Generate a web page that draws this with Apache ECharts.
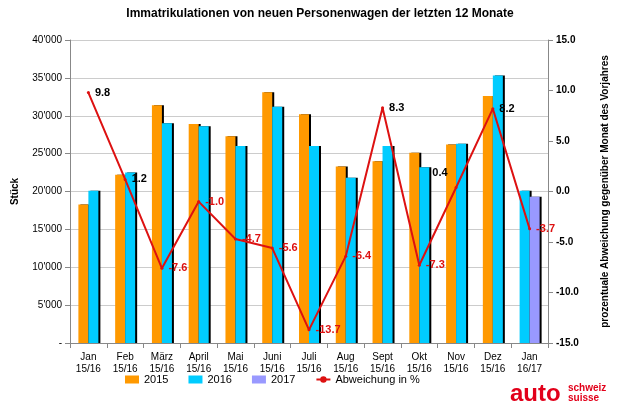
<!DOCTYPE html>
<html><head><meta charset="utf-8">
<script src="https://cdn.jsdelivr.net/npm/echarts@6/dist/echarts.min.js"></script>
<style>html,body{margin:0;padding:0;background:#fff}#c{width:630px;height:412px}</style>
</head><body><div id="c"></div>
<script>
const categories = ['Jan\n15/16','Feb\n15/16','März\n15/16','April\n15/16','Mai\n15/16','Juni\n15/16','Juli\n15/16','Aug\n15/16','Sept\n15/16','Okt\n15/16','Nov\n15/16','Dez\n15/16','Jan\n16/17'];
const v2015 = [18300,22200,31400,28900,27300,33100,30200,23300,24000,25100,26200,32600,null];
const v2016 = [20100,22500,29000,28600,26000,31200,26000,21800,26000,23200,26300,35300,20100];
const v2017 = [19300];
const pct = [9.8,1.2,-7.6,-1.0,-4.7,-5.6,-13.7,-6.4,8.3,-7.3,0.4,8.2,-3.7];
const C15='#ff9900', C16='#00ccff', C17='#9999ff', CL='#dd1111';
const shadow = {shadowColor:'#000',shadowOffsetX:2,shadowBlur:0};
const firstBars = v2015.map((v,i)=> i===12 ? {value:v2016[12], itemStyle:{color:C16}} : v);
const secondBars = v2016.map((v,i)=> i===12 ? {value:v2017[0], itemStyle:{color:C17}} : v);
const fmtL = v => v===0 ? '-' : String(v/1000)+"'000";
const chart = echarts.init(document.getElementById('c'));
chart.setOption({
  animation:false,
  title:{text:'Immatrikulationen von neuen Personenwagen der letzten 12 Monate',left:315,textAlign:'center',top:3,textStyle:{fontFamily:'Arial, Liberation Sans',fontSize:12,fontWeight:'bold',color:'#000'}},
  grid:{left:70,right:82,top:40,bottom:69},
  legend:{bottom:22,left:120,itemWidth:14,itemHeight:8,itemGap:20,textStyle:{fontFamily:'Arial, Liberation Sans',fontSize:11,color:'#000'},
    data:[{name:'2015',icon:'rect'},{name:'2016',icon:'rect'},{name:'2017',icon:'rect'},{name:'Abweichung in %'}]},
  xAxis:{type:'category',data:categories,axisTick:{show:true,alignWithLabel:false,lineStyle:{color:'#888'}},axisLine:{lineStyle:{color:'#888'}},
    axisLabel:{color:'#000',fontFamily:'Arial, Liberation Sans',fontSize:10,lineHeight:12,interval:0}},
  yAxis:[
    {type:'value',min:0,max:40000,interval:5000,name:'Stück',nameLocation:'middle',nameGap:50,nameRotate:90,
     nameTextStyle:{fontFamily:'Arial, Liberation Sans',fontSize:10,fontWeight:'bold',color:'#000'},
     axisLine:{show:true,lineStyle:{color:'#888'}},axisTick:{show:true,lineStyle:{color:'#888'}},
     axisLabel:{formatter:fmtL,color:'#000',fontFamily:'Arial, Liberation Sans',fontSize:10},
     splitLine:{lineStyle:{color:'#ccc'}}},
    {type:'value',min:-15,max:15,interval:5,name:'prozentuale Abweichung gegenüber Monat des Vorjahres',nameLocation:'middle',nameGap:52,nameRotate:90,
     nameTextStyle:{fontFamily:'Arial, Liberation Sans',fontSize:10,fontWeight:'bold',color:'#000'},
     axisLine:{show:true,lineStyle:{color:'#888'}},axisTick:{show:true,lineStyle:{color:'#888'}},
     axisLabel:{formatter:v=>v.toFixed(1),color:'#000',fontFamily:'Arial, Liberation Sans',fontSize:10,fontWeight:'bold'},
     splitLine:{show:false}}
  ],
  series:[
    {name:'2015',type:'bar',data:firstBars,barWidth:10,barGap:'0%',itemStyle:Object.assign({color:C15},shadow)},
    {name:'2016',type:'bar',data:secondBars,barWidth:10,barGap:'0%',itemStyle:Object.assign({color:C16},shadow)},
    {name:'2017',type:'line',data:[],itemStyle:{color:C17}},
    {name:'Abweichung in %',type:'line',yAxisIndex:1,
     data:pct.map((v,i)=>({value:v,label:Object.assign({color:v>=0?'#000':CL}, i===10?{position:'left',offset:[-2,-14]}:{})})),
     symbol:'circle',symbolSize:3,lineStyle:{color:CL,width:2},itemStyle:{color:CL},
     label:{show:true,position:'right',formatter:p=>p.value.toFixed(1),fontFamily:'Arial, Liberation Sans',fontSize:11,fontWeight:'bold'}}
  ],
  graphic:[
    {type:'text',left:510,top:382,style:{text:'auto',fill:'#e2001a',font:'bold 24px Arial, Liberation Sans'}},
    {type:'text',left:568,top:383,style:{text:'schweiz\nsuisse',fill:'#e2001a',font:'bold 10px Arial, Liberation Sans',lineHeight:10}}
  ]
});
</script></body></html>
